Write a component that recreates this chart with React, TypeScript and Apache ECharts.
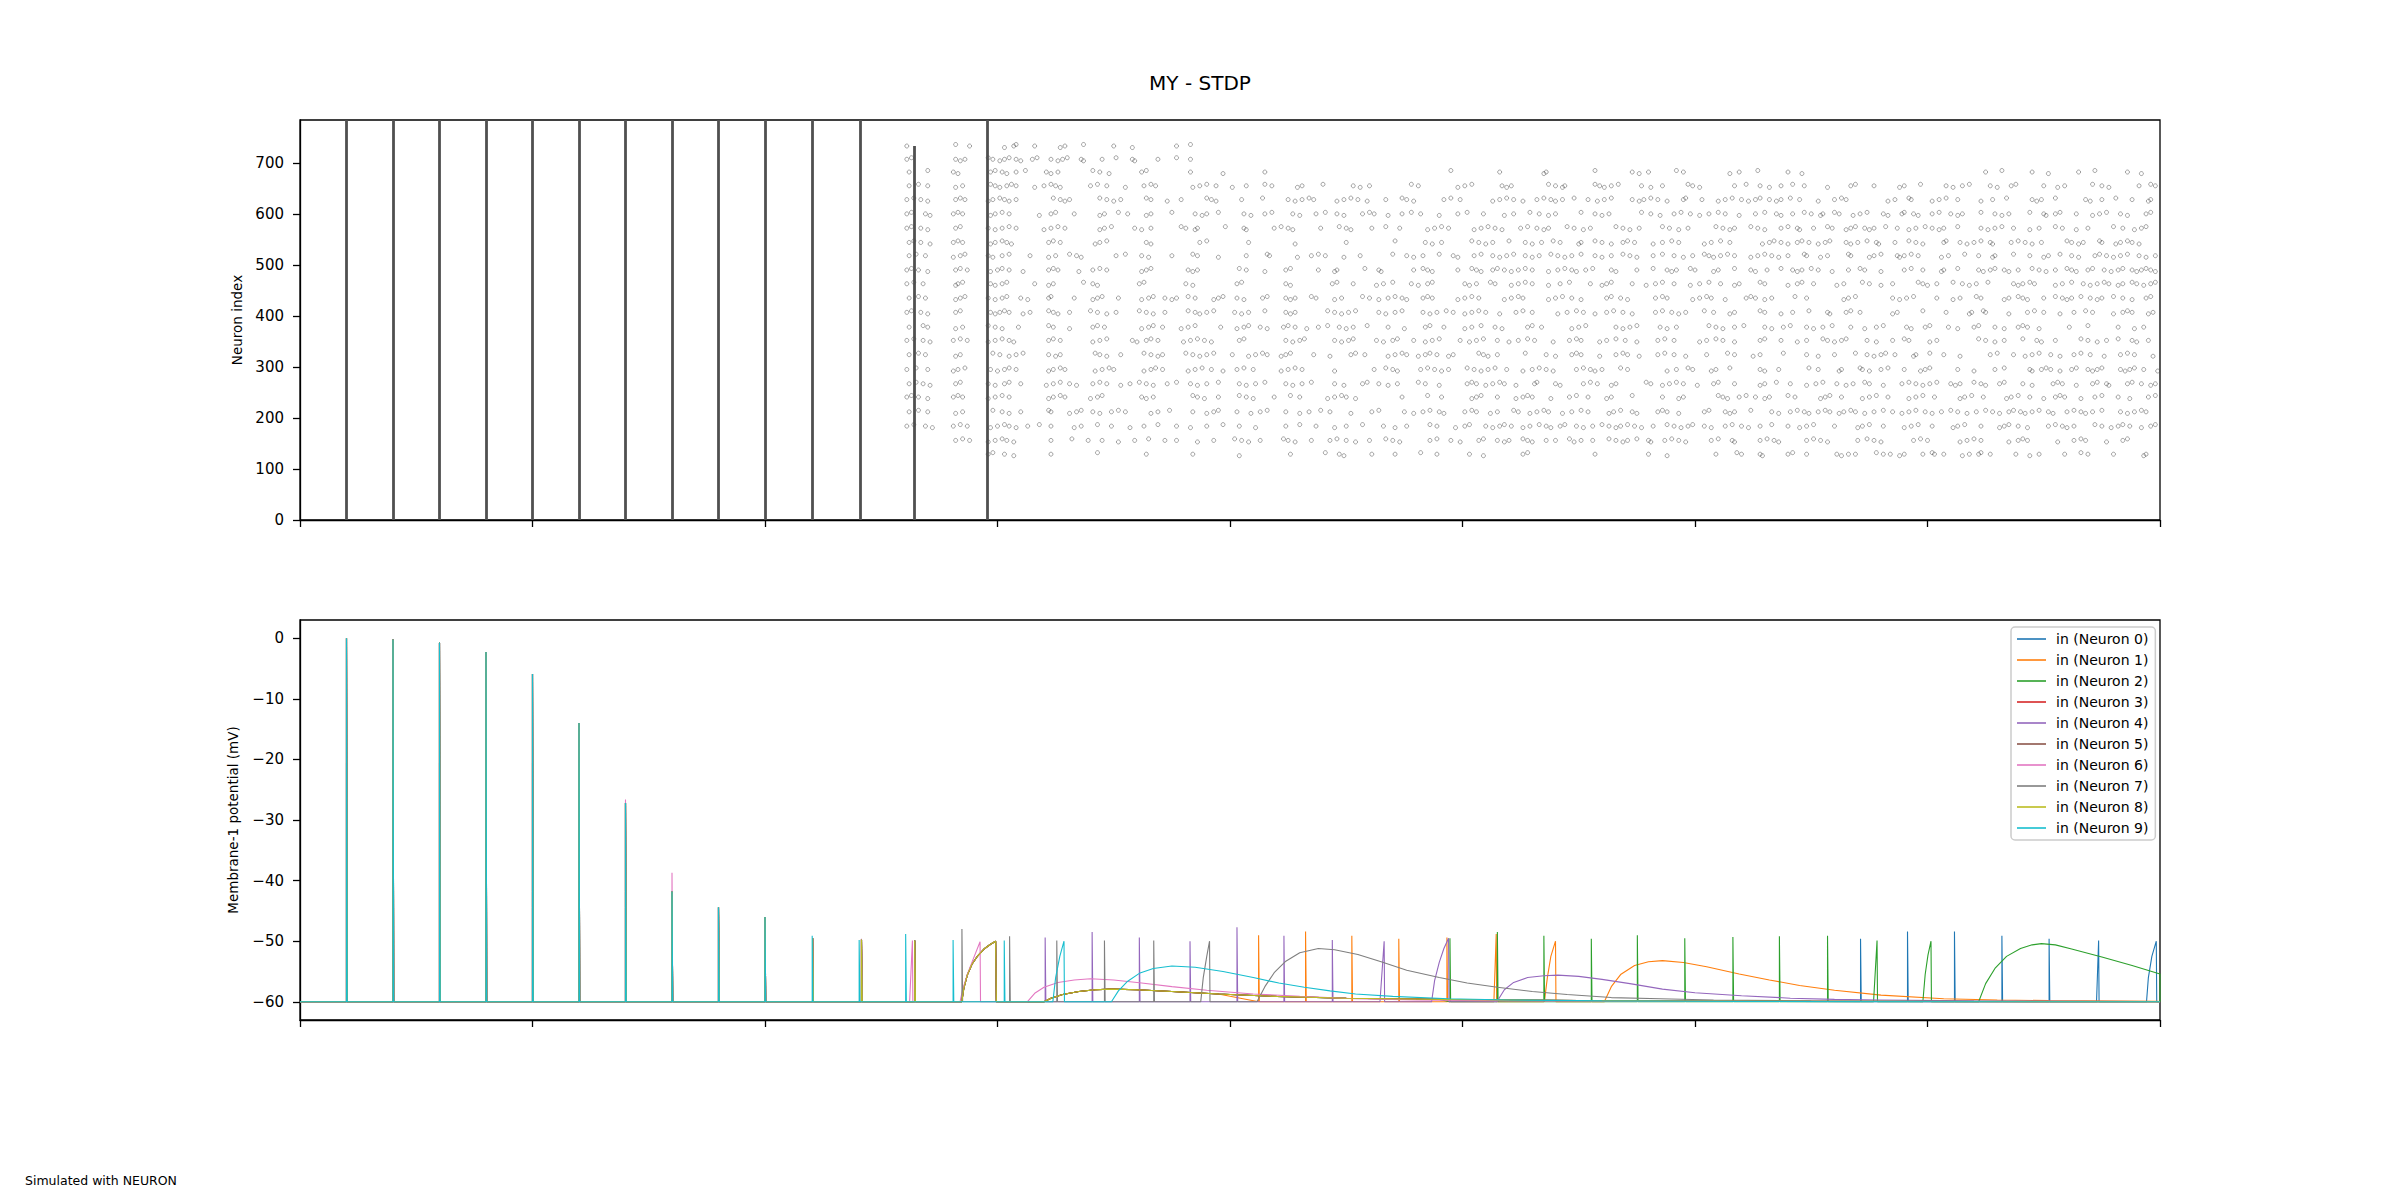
import React, { useEffect, useRef } from "react";
import * as echarts from "echarts";

const FONT = "DejaVu Sans";

// ---------- axes ----------
const xTickValues = [0, 100, 200, 300, 400, 500, 600, 700, 800];
const rasterTickValues = [0, 100, 200, 300, 400, 500, 600, 700];
const vmTickValues = [-60, -50, -40, -30, -20, -10, 0];

// ---------- raster: synchronous volleys (all neurons in range fire) ----------
const volleyTimes = [20, 40, 60, 80, 100, 120, 140, 160, 180, 200, 220.5, 241, 264, 295.5];
const volleyTopIndex = [784, 784, 784, 784, 784, 784, 784, 784, 784, 784, 784, 784, 733, 784];

// ---------- raster: scattered spikes, grouped by neuron-index row ----------
// token "t" = spike at row index, "t^" = a few indices above the row, "tv" = a few below
const rasterRowIndex = [129, 156, 184, 212, 241, 267, 295, 324, 352, 378, 407, 435, 463, 490, 518, 544, 572, 600, 628, 655, 682, 707, 733];
const rasterRowOffset = 3;
const rasterRowTimes = [
  "296 298^ 303 307v 323 343^ 364 384 404v 426 441^ 447 449v 461 471 482^ 489 503 509v 526 528^ 557 580 588v 609 618^ 620 628 629v 640 642^ 648 661 663v 666 669 678^ 681 684 688v 690 698 702^ 703 707 715v 718 722 723^ 727 738 744v 748 759 766^ 769 780 793v 794",
  "282 285^ 288 296v 299 302^ 304 307v 323 332^ 339 345 352v 359 365^ 372 377 386v 393 402^ 405 408v 413 423^ 425 428v 435 443 446^ 450 454v 460 467^ 470 473v 486 489^ 495 499v 507 509^ 515 518v 520 526^ 528 530v 536 540 546^ 548v 551 556 563^ 566 569v 571 575^ 580 581v 587 590^ 593 596v 607 610^ 616 617v 628 631^ 634 636v 648 651^ 654 657v 670 674^ 677 680v 694 697^ 700 714v 717 720^ 723 735v 739 741^ 743 756v 763 766^ 768 777v 784 786^",
  "261 264^ 269 272v 281 284^ 287 297v 300 303^ 305 308v 313 318^ 323 333v 336 343^ 349 357v 363 369^ 377 383v 390 397^ 404 411v 424 430^ 437 445v 450 457^ 466 471v 476 486^ 489 497v 501 503^ 510 513v 516 518^ 521 526v 529 533^ 536 538v 542 544^ 549 552v 556 560^ 563 566v 568 571^ 574 577v 582 588^ 591 594v 597 599^ 604 607v 613 616^ 620 623v 628 633^ 640 645v 648 651^ 660 670v 672 675^ 681 690v 693 696^ 702 711v 713 716^ 723 731v 733 735^ 739 743v 752 755^ 758 760v 763 772^ 775 779v 782 784^ 787 792v 796 798^",
  "262 266^ 270 282v 285 298^ 302 305v 310 322^ 323 331v 334 336^ 341 344v 349 352^ 355 366v 369 374^ 384 390v 393 395^ 403 409v 413 416^ 424 430v 434 439^ 443 452v 461 464^ 475 479v 483 486^ 490 492v 501 504^ 506 512v 515 522^ 524 529v 532 535^ 537 543v 547 551^ 554 563v 565 568^ 573 575v 584 586^ 588 593v 604 606^ 613 615v 617 624^ 633 636v 641 644^ 647 649v 653 656^ 658 662v 664 667^ 669 673v 677 681^ 685 689v 692 695^ 699 702v 706 710^ 713 717v 721 725^ 728 731v 735 737^ 740 742v 745 748^ 752 754v 760 763^ 766 768v 771 775^ 783 786v 789 792^ 794",
  "261 263^ 266 270v 281 283^ 285 296v 299 302^ 305 322v 324 327^ 329 340v 343 345^ 362 364v 367 384^ 386 389v 395 404^ 407 410v 419 426^ 430 442v 445 448^ 450 454v 474 485^ 491 504v 506 508^ 515 523v 526 528^ 530 538v 546 549^ 554 562v 564 573^ 586 593v 595 610^ 612 614v 619 622^ 626 630v 632 640^ 643 654v 656 658^ 663 672v 675 678^ 683 692v 695 698^ 703 714v 716 719^ 724 734v 736 739^ 744 750v 755 757^ 759 766v 772 775^ 782 787v 795 798^",
  "262 265^ 268 271v 282 284^ 296 299v 303 305^ 310 321v 324 327^ 331 334v 341 344^ 347 353v 357 361^ 364 367v 373 377^ 383 386v 390 395^ 404 407v 411 415^ 424 427v 431 435^ 445 449v 457 459^ 464 468v 472 481^ 484 490v 502 504^ 506 510v 513 516^ 518 523v 531 532^ 540 542v 552 555^ 558 564v 566 579^ 581 586v 589 592^ 595 601v 608 610^ 617 628v 630 635^ 641 648v 652 655^ 661 665v 668 673^ 675 681v 689 692^ 695 698v 701 704^ 710 712v 714 720^ 723 725v 731 733^ 741 745v 754 756^ 758 764v 771 773^ 777 778v 786 788^ 792 796v 798",
  "261 265^ 270 281v 283 286^ 297 300v 303 305^ 308 322v 324 327^ 329 342v 345 348^ 350 363v 366 368^ 371 382v 385 388^ 392 397v 403 406^ 410 422v 425 428^ 431 445v 462 467^ 470 472v 482 485^ 488 491v 494 502^ 505 508v 511 514^ 519 526v 530 533^ 536 539v 549 552^ 555 557v 560 568^ 571 588v 592 597^ 599 607v 609 615^ 628 630v 636 649^ 653 662v 663 671^ 672 675v 680 683^ 690 697v 699 701^ 713 720v 729 733^ 744 745v 749 751^ 753 757v 762 764^ 769 771v 773 775^ 783 785v 787 789^ 793 799v",
  "262 266^ 269 282v 284 298^ 301 305v 308 311^ 322 325v 327 342^ 344 347v 353 363^ 366 369v 371 381^ 384 387v 390 393^ 401 408v 411 414^ 416 422v 424 426^ 436 443v 452 454^ 458 468v 471 474^ 476 481v 484 486^ 489 494v 496 507^ 509 511v 515 527^ 536 540v 547 549^ 551 559v 566 569^ 571 576v 584 587^ 591 596v 605 614^ 617 625v 628 638^ 648 653v 660 669^ 674 677v 680 682^ 686 694v 695 701^ 707 714v 727 730^ 737 742v 745 748^ 753 757v 763 766^ 770 776v 783 786^ 789 797v",
  "261 264^ 268 271v 281 284^ 287 296v 299 302^ 305 307v 322 324^ 327 341v 344 347^ 358 360v 364 366^ 369 380v 383 386^ 389 392v 404 406^ 424 427v 430 432^ 445 448v 451 453^ 463 466v 470 472^ 479 484v 487 490^ 499 503v 506 509^ 515 520v 524 528^ 531 539v 546 549^ 551 559v 562 566^ 570 575v 584 587^ 591 602v 605 609^ 612 617v 628 630^ 637 644v 648 655^ 657 660v 663 665^ 674 678v 685 690^ 692 701v 704 722^ 725 729v 733 741^ 747 749v 755 766^ 769 773v 777 782^ 788 790v 795",
  "262 268^ 270 282v 285 296^ 299 302v 309 322^ 324 331v 341 343^ 346 362v 365 367^ 371 379v 382 385^ 396 403v 406 408^ 413 416v 423 425^ 428 433v 438 442^ 447 450v 453 459^ 468 475v 484 486^ 492 501v 504 508^ 514 517v 528 530^ 534 547v 550 553^ 566 569v 572 575^ 585 588v 592 606^ 609 612v 617 621^ 630 633v 638 641^ 648 651v 655 659^ 667 673v 678 681^ 691 693v 699 701^ 709 713v 720 722^ 729 733v 739 741^ 743 748v 761 769^ 782 789v 793",
  "261 263^ 267 270v 282 284^ 297 299v 301 303^ 305 311v 314 322^ 324 326v 331 340^ 343 347v 351 361^ 364 367v 372 382^ 385 387v 390 393^ 402 405v 408 415^ 424 426v 428 442^ 445 448v 451 454^ 464 467v 471 474^ 483 486v 489 493^ 496 501v 504 507^ 510 516v 523 526^ 530 541v 545 549^ 552 557v 562 565^ 569 573v 583 586^ 590 593v 596 604^ 608 615v 617 628^ 630 637v 642 649^ 657 658v 665 667^ 671 685v 687 698^ 708 718v 719 724^ 725 735v 743 746^ 750 757v 763 768^ 771 780v 784 786^ 788 795v 797",
  "262 266^ 269 282v 284 286^ 296 299v 302 304^ 310 313v 322 323^ 333 341v 343 345^ 352 362v 365 367^ 372 375v 377 382^ 385 393v 395 397^ 403 406v 414 416^ 424 426v 428 435^ 437 445v 448 457^ 460 464v 468 471^ 474 476v 483 485^ 487 498v 501 504^ 507 518v 521 524^ 526 537v 540 543^ 547 551v 562 564^ 568 571v 583 586^ 588 599v 602 605^ 607 613v 622 624^ 626 630v 633 643^ 648 664v 666 669^ 685 688v 691 694^ 704 711v 714 721^ 723 733v 735 739^ 741 743v 750 755^ 758 760v 762 766^ 770 773v 775 780^ 784 788v 794 796^",
  "261 264^ 268 282v 283 285^ 297 299v 302 304^ 316 322v 324 337^ 341 343v 361 363^ 381 384v 403 405^ 424 426v 444 446^ 453 463v 466 470^ 478 481v 485 487^ 501 503v 506 512^ 514 521v 524 527^ 530 537v 542 546^ 555 560v 562 564^ 573 579v 583 586^ 591 598v 602 606^ 611 617v 619 628^ 630 640v 644 646^ 651 661v 664 672^ 675 680v 685 696^ 698 700v 704 711^ 715 718v 721 726^ 737 739v 741 744^ 746 755v 758 762^ 767 770v 773 776^ 778 782v 784 788^ 790 793v 796 798^",
  "261 263^ 266 270v 282 284^ 287 297v 300 302^ 305 311v 322 324^ 326 335v 341 344^ 347 362v 364 366^ 382 384v 386 404^ 407 415v 424 426^ 438 445v 446 458^ 464 465v 479 483^ 485 487v 498 504^ 506 508v 513 515^ 518 521v 524 527^ 530 537v 541 544^ 547 549v 553 556^ 564 566v 575 582^ 588 590v 592 598^ 600 608v 610 617^ 624 626v 631 637^ 642 644v 646 650^ 653 659v 666 671^ 673 680v 690 693^ 698 706v 707 713^ 722 724v 727 729^ 733 735v 739 745^ 748 751v 755 760^ 762 764v 769 771^ 776 779v 782 784^ 788 790v 792 794^ 796 798v",
  "262 265^ 269 281v 284 286^ 296 298v 302 305^ 314 322v 325 331^ 334 336v 351 355^ 362 365v 375 384^ 386 395v 407 416^ 417 429v 435 438^ 441 449v 456 470^ 476 479v 483 490^ 496 498v 505 508^ 513 516v 519 522^ 527 530v 533 538^ 541 544v 547 551^ 557 560v 564 569^ 572 575v 582 586^ 591 595v 599 604^ 606 608v 611 614^ 617 624v 627 630^ 633 636v 640 647^ 648 654v 657 666^ 667 675v 677 680^ 687 688v 690 693^ 696 706v 709 716^ 722 728v 729 737^ 744 750v 752 757^ 762 765v 772 774^ 777 780v 783 786^ 791 794v 798",
  "262 264^ 267 271v 281 283^ 285 297v 299 302^ 304 306v 322 324^ 327 342v 344 347^ 364 366v 387 390^ 408 428v 450 471^ 484 487v 491 504^ 507 510v 513 520^ 527 530v 534 539^ 542 550v 551 557^ 560 564v 569 571^ 574 582v 586 590^ 593 604v 607 611^ 615 629v 632 634^ 637 640v 644 646^ 649 653v 656 658^ 665 667v 670 674^ 678 679v 686 692^ 695 698v 707 708^ 714 717v 720 723^ 727 728v 736 739^ 742 745v 749 760^ 762 765v 767 774^ 775 781v 783 786^ 788 791v",
  "261 263^ 267 270v 282 284^ 296 299v 302 305^ 308 320v 323 326^ 329 344v 346 349^ 359 362v 366 379^ 381 385v 386 398^ 406 407v 419 422^ 425 427v 439 447^ 450 452v 461 467^ 473 485v 488 491^ 494 505v 508 511^ 514 517v 525 528^ 532 535v 537 545^ 548 552v 555 566^ 569 572v 576 586^ 589 593v 597 609^ 612 615v 617 624^ 627 630v 637 640^ 644 645v 651 657^ 659 665v 667 669^ 673 675v 677 682^ 687 692v 695 699^ 702 705v 707 713^ 723 726v 729 732^ 737 744v 748 755^ 758 764v 769 780^ 784 789v 792 794^",
  "261 263^ 269 271v 281 283^ 285 297v 299 302^ 305 318v 323 325^ 333 344v 346 352^ 356 364v 366 375^ 385 388v 390 395^ 406 409v 415 418^ 427 430v 437 441^ 446 449v 457 460^ 462 468v 474 478^ 482 490v 498 502^ 509 518v 522 529^ 533 537v 540 551^ 557 560v 563 577^ 581 585v 591 594^ 598 602v 606 610^ 613 619v 626 630^ 635 637v 642 647^ 650 654v 655 660^ 662 668v 671 674^ 681 683v 689 690^ 694 696v 702 705^ 710 713v 715 723^ 729 732v 735 744^ 750 751v 755 757^ 764 771v 774 777^ 783 786v 794 796^",
  "261 264^ 267 270v 282 284^ 286 296v 298 301^ 303 305v 308 324^ 327 329v 331 344^ 347 350v 353 364^ 366 373v 379 390^ 392 394v 405 414^ 425 428v 431 434^ 436 446v 449 452^ 455 459v 467 474^ 476 479v 492 495^ 499 513v 516 519^ 522 526v 532 535^ 538 540v 543 548^ 554 558v 561 564^ 573 576v 578 581^ 584 588v 595 596^ 603 610v 613 616^ 620 623v 626 628^ 632 635v 637 641^ 645 653v 660 663^ 665 683v 686 692^ 693 702v 705 708^ 713 723v 728 734^ 745 747v 749 755^ 768 770v 775 781^ 788 795v 796",
  "262 266^ 270 282v 285 297^ 299 301v 304 306^ 308 316v 320 323^ 325 327v 340 343^ 347 355v 363 366^ 368 384v 387 390^ 394 401v 407 415^ 418 429v 431 440^ 453 456v 460 478^ 481 498v 501 504^ 517 519v 521 537^ 540 543v 544 557^ 559 561v 564 567^ 577 581v 586 597^ 599 602v 617 622^ 628 632v 637 642^ 647 657v 667 669^ 677 688v 690 697^ 708 711v 715 718^ 727 730v 736 738^ 750 756v 759 771^ 775 778v 791 796^ 798",
  "262 270^ 281 283v 297 299^ 302 304v 308 312^ 321 323v 326 341^ 344 348v 362 364^ 383 397v 415 495^ 516 535v 536 557^ 573 576v 580 592^ 595 615v 619 627^ 640 646v 725 732^ 745 752v 765 772^ 786 792v",
  "261 263^ 282 284v 286 296^ 298 301v 303 305^ 308 310v 315 317^ 323 326v 328 330^ 336 337v 345 351^ 358 359v 369 377^ 383",
  "261 282^ 288 303v 307 308^ 316 327v 329 337^ 350 358v 377 383^",
];

// ---------- membrane potential traces ----------
const neuronNames = [
  "in (Neuron 0)", "in (Neuron 1)", "in (Neuron 2)", "in (Neuron 3)", "in (Neuron 4)",
  "in (Neuron 5)", "in (Neuron 6)", "in (Neuron 7)", "in (Neuron 8)", "in (Neuron 9)",
];
const neuronColors = ["#1f77b4", "#ff7f0e", "#2ca02c", "#d62728", "#9467bd", "#8c564b", "#e377c2", "#7f7f7f", "#bcbd22", "#17becf"];

const restPotential = -60;
const traceStart = 0;
const traceEnd = 800;

// [time ms, peak mV] of the synchronous volleys seen by every trace
const volleyPeaks: [number, number][] = [
  [20, 0], [40, -0.2], [60, -0.7], [80, -2.3], [100, -5.9], [120, -14], [140, -27.2], [160, -41.8], [180, -44.4], [200, -46],
];
const volleyPeaksNeuron6: [number, number][] = [
  [20, 0], [40, -0.2], [60, -0.7], [80, -2.3], [100, -5.9], [120, -14], [140, -26.6], [160, -38.7], [180, -44.4], [200, -46],
];

// spikes after the volleys: [time, peak]
const spikesGroup: [number, number][] = [[220.5, -49.5], [241.5, -49.7], [264.4, -49.9]];
const spikesN0: [number, number][] = [[671.2, -49.6], [691.4, -48.4], [711.6, -48.4], [732, -49.1], [752.3, -49.6]];
const spikesN1: [number, number][] = [[412.3, -49], [432.5, -48.4], [452.4, -49.1], [472.6, -49.6], [493.3, -49.4]];
const spikesN2: [number, number][] = [[494.6, -49.5], [515, -48.5], [535, -49.1], [555.4, -49.6], [575.2, -49], [595.6, -49.5], [616.3, -49.3], [636.3, -49.2], [657, -49.1]];
const spikesN4: [number, number][] = [[320.5, -49.4], [340.7, -48.5], [361, -49.4], [382.8, -50], [403, -47.7], [423.2, -49.1], [444, -49.8]];
const spikesN6: [number, number][] = [[220.5, -49.6], [241.5, -49.6]];
const spikesN7: [number, number][] = [[220.5, -49.5], [241.5, -49.7], [264.4, -49.9], [284.7, -48], [305.2, -49.2], [325.5, -49.9], [346, -49.9], [367.2, -49.9]];
const spikesN9: [number, number][] = [[220.3, -49.1], [240.5, -49.8], [260.5, -48.8], [280.9, -49.8], [302.9, -49.9]];

// sub-threshold curves: [time, mV]
const riseGroup: [number, number][] = [[284.6, -60], [285.5, -57.8], [287, -55.6], [289, -53.8], [291.5, -52.4], [294.5, -51.2], [297, -50.5], [299.2, -50], [299.5, -60]];
const bumpGroup: [number, number][] = [[320, -60], [323, -59.4], [328, -58.8], [335, -58.3], [342, -58], [349, -57.9], [360, -58], [375, -58.3], [395, -58.7], [420, -59.1], [450, -59.4], [492, -59.6], [550, -59.8], [620, -59.9]];
const bumpGroupN1: [number, number][] = [[320, -60], [323, -59.4], [328, -58.8], [335, -58.3], [342, -58], [349, -57.9], [360, -58], [375, -58.3], [395, -58.7]];
const bumpGroupN2: [number, number][] = [[320, -60], [323, -59.4], [328, -58.8], [335, -58.3], [342, -58], [349, -57.9], [360, -58], [375, -58.3], [395, -58.7], [420, -59.1], [450, -59.4], [490, -59.6]];
const curvesN0: [number, number][] = [[772.7, -60], [773.6, -49.9], [773.8, -60], [794.2, -60], [795, -56], [796.5, -52.5], [798.4, -50], [798.6, -60]];
const curvesN1: [number, number][] = [
  [513.5, -60], [514.5, -48.8], [514.7, -60], [535.2, -60], [536.5, -56], [538, -52.5], [540, -50], [540.2, -60],
  [561, -60], [564, -57.5], [568, -55.5], [574, -54], [580, -53.4], [586, -53.2], [595, -53.5], [605, -54.2], [619, -55.4], [632, -56.4], [645, -57.3], [660, -58.1], [680, -58.9], [707, -59.5], [730, -59.7], [752, -59.8], [799, -59.9],
];
const curvesN2: [number, number][] = [
  [676.8, -60], [678.3, -49.9], [678.5, -60], [698, -60], [699, -55.5], [700.2, -52.3], [701.5, -50], [701.7, -60],
  [722, -60], [725, -57], [729, -54.5], [734, -52.5], [740, -51.2], [745, -50.6], [749, -50.4], [755, -50.6], [762, -51.3], [775, -52.6], [788, -54], [800, -55.4],
];
const curvesN4: [number, number][] = [
  [464.5, -60], [466.3, -50], [466.5, -60], [486.7, -60], [488, -56.5], [490, -53.5], [492, -51.2], [494, -49.5], [494.2, -60],
  [514.8, -60], [518, -58], [522, -56.8], [528, -56], [535, -55.7], [541, -55.6], [550, -55.8], [560, -56.3], [572, -57], [586, -57.9], [600, -58.5], [620, -59], [641, -59.4], [660, -59.6], [679, -59.7], [720, -59.85], [799, -59.95],
];
const curvesN6: [number, number][] = [
  [262.2, -60], [263.4, -49.9], [263.6, -60], [283.9, -60], [285, -58], [287, -55.5], [289.5, -53], [292.5, -50.1], [292.7, -60],
  [312.8, -60], [316, -58.6], [320, -57.6], [326, -56.8], [333, -56.4], [340, -56.2], [350, -56.4], [362, -56.9], [375, -57.5], [390, -58.1], [410, -58.7], [430, -59.1], [454, -59.5], [480, -59.7], [520, -59.85], [560, -59.9],
];
const curvesN7: [number, number][] = [
  [387.4, -60], [388.5, -56], [390, -52.5], [391.2, -50], [391.4, -60],
  [411.6, -60], [415, -57.5], [419, -55.2], [424, -53.3], [430, -51.9], [438, -51.2], [445, -51.4], [455, -52.2], [465, -53.4], [476, -54.8], [490, -56], [502, -56.9], [515, -57.6], [530, -58.3], [545, -58.8], [564, -59.3], [585, -59.5], [608, -59.7], [650, -59.85], [700, -59.9],
];
const curvesN9: [number, number][] = [
  [323.8, -60], [325, -56], [326.8, -52.5], [328.6, -50], [328.8, -60],
  [349, -60], [352, -58.2], [356, -56.6], [361, -55.3], [367, -54.5], [375, -54.1], [385, -54.3], [397, -55], [410, -56], [421, -56.9], [432, -57.6], [443, -58.2], [454, -58.7], [470, -59.1], [494, -59.5], [520, -59.7], [560, -59.85], [620, -59.95],
];

const neuronSpikeLists: [number, number][][][] = [
  [volleyPeaks, spikesGroup, spikesN0],
  [volleyPeaks, spikesGroup, spikesN1],
  [volleyPeaks, spikesGroup, spikesN2],
  [volleyPeaks, spikesGroup],
  [volleyPeaks, spikesGroup, spikesN4],
  [volleyPeaks, spikesGroup],
  [volleyPeaksNeuron6, spikesN6],
  [volleyPeaks, spikesN7],
  [volleyPeaks, spikesGroup],
  [volleyPeaks, spikesN9],
];
const neuronCurveLists: [number, number][][][] = [
  [riseGroup, bumpGroup, curvesN0],
  [riseGroup, bumpGroupN1, curvesN1],
  [riseGroup, bumpGroupN2, curvesN2],
  [riseGroup, bumpGroup],
  [riseGroup, curvesN4],
  [riseGroup, bumpGroup],
  [curvesN6],
  [curvesN7],
  [riseGroup, bumpGroup],
  [curvesN9],
];

function buildTrace(i: number): [number, number][] {
  const pts: { t: number; v: number; k: number }[] = [];
  let k = 0;
  pts.push({ t: traceStart, v: restPotential, k: k++ });
  for (const list of neuronSpikeLists[i]) {
    for (const [t, p] of list) {
      pts.push({ t, v: restPotential, k: k++ });
      pts.push({ t, v: p, k: k++ });
      pts.push({ t: t + 0.3, v: restPotential, k: k++ });
    }
  }
  for (const list of neuronCurveLists[i]) {
    for (const [t, v] of list) pts.push({ t, v, k: k++ });
  }
  pts.push({ t: traceEnd, v: restPotential, k: k++ });
  pts.sort((a, b) => (a.t - b.t) || (a.k - b.k));
  return pts.map((p) => [p.t, p.v]);
}

function buildRaster(): [number, number][] {
  const out: [number, number][] = [];
  rasterRowTimes.forEach((s, r) => {
    s.trim().split(/\s+/).forEach((tok) => {
      const last = tok[tok.length - 1];
      let idx = rasterRowIndex[r];
      let num = tok;
      if (last === "^") { idx += rasterRowOffset; num = tok.slice(0, -1); }
      else if (last === "v") { idx -= rasterRowOffset; num = tok.slice(0, -1); }
      out.push([Number(num), idx]);
    });
  });
  return out;
}

const fmtMinus = (v: number) => (v < 0 ? "\u2212" + Math.abs(v) : String(v));

function buildOption(): any {
  const axisLineStyle = { color: "#000", width: 1.3 };
  const xAxisCommon = (gridIndex: number) => ({
    gridIndex,
    type: "value",
    min: 0,
    max: 800,
    axisLine: { show: true, onZero: false, lineStyle: axisLineStyle },
    axisTick: { show: true, length: 7, lineStyle: axisLineStyle, customValues: xTickValues },
    axisLabel: { show: false, customValues: xTickValues },
    splitLine: { show: false },
  });
  const series: any[] = [
    {
      type: "lines",
      coordinateSystem: "cartesian2d",
      xAxisIndex: 0,
      yAxisIndex: 0,
      silent: true,
      z: 2,
      data: volleyTimes.map((t, i) => ({ coords: [[t, 0], [t, volleyTopIndex[i]]] })),
      lineStyle: { color: "#505050", width: 2.8, opacity: 1 },
    },
    {
      type: "scatter",
      xAxisIndex: 0,
      yAxisIndex: 0,
      silent: true,
      z: 3,
      data: buildRaster(),
      symbol: "circle",
      symbolSize: 4,
      itemStyle: { color: "rgba(0,0,0,0)", borderColor: "rgba(75,75,75,0.7)", borderWidth: 0.9 },
    },
  ];
  neuronNames.forEach((name, i) => {
    series.push({
      type: "line",
      name,
      xAxisIndex: 1,
      yAxisIndex: 1,
      silent: true,
      z: 4,
      data: buildTrace(i),
      showSymbol: false,
      symbol: "none",
      clip: true,
      lineStyle: { width: 1.1, color: neuronColors[i] },
      itemStyle: { color: neuronColors[i] },
    });
  });

  return {
    animation: false,
    backgroundColor: "#ffffff",
    textStyle: { fontFamily: FONT },
    grid: [
      { left: 300, top: 120, width: 1860, height: 400, show: true, borderColor: "#000", borderWidth: 1.3, backgroundColor: "transparent" },
      { left: 300, top: 620, width: 1860, height: 400, show: true, borderColor: "#000", borderWidth: 1.3, backgroundColor: "transparent" },
    ],
    xAxis: [xAxisCommon(0), xAxisCommon(1)],
    yAxis: [
      {
        gridIndex: 0,
        type: "value",
        min: 0,
        max: 784,
        axisLine: { show: true, onZero: false, lineStyle: axisLineStyle },
        axisTick: { show: true, length: 7, lineStyle: axisLineStyle, customValues: rasterTickValues },
        axisLabel: { show: true, customValues: rasterTickValues, fontSize: 15, color: "#000", fontFamily: FONT, margin: 16 },
        splitLine: { show: false },
        name: "Neuron index",
        nameLocation: "middle",
        nameGap: 56,
        nameTextStyle: { fontSize: 13.5, color: "#000", fontFamily: FONT },
      },
      {
        gridIndex: 1,
        type: "value",
        min: -63,
        max: 3,
        axisLine: { show: true, onZero: false, lineStyle: axisLineStyle },
        axisTick: { show: true, length: 7, lineStyle: axisLineStyle, customValues: vmTickValues },
        axisLabel: { show: true, customValues: vmTickValues, fontSize: 15, color: "#000", fontFamily: FONT, margin: 16, formatter: fmtMinus },
        splitLine: { show: false },
        name: "Membrane-1 potential (mV)",
        nameLocation: "middle",
        nameGap: 60,
        nameTextStyle: { fontSize: 13.5, color: "#000", fontFamily: FONT },
      },
    ],
    legend: {
      show: true,
      orient: "vertical",
      left: 2011,
      top: 627,
      itemWidth: 29,
      itemHeight: 1.6,
      itemGap: 7,
      padding: [5, 7, 5, 6],
      borderColor: "#cccccc",
      borderWidth: 1.5,
      borderRadius: 4,
      backgroundColor: "rgba(255,255,255,0.8)",
      textStyle: { fontSize: 14, lineHeight: 14, color: "#000", fontFamily: FONT, padding: [0, 0, 0, 5] },
      data: neuronNames.map((name) => ({ name, icon: "rect" })),
    },
    graphic: [
      {
        type: "text",
        x: 1200,
        y: 83,
        silent: true,
        style: { text: "MY - STDP", fill: "#000", fontSize: 20, fontFamily: FONT, align: "center", verticalAlign: "middle", textAlign: "center", textVerticalAlign: "middle" },
      },
      {
        type: "text",
        x: 25,
        y: 1180,
        silent: true,
        style: { text: "Simulated with NEURON", fill: "#000", fontSize: 12.5, fontFamily: FONT, align: "left", verticalAlign: "middle", textAlign: "left", textVerticalAlign: "middle" },
      },
    ],
    series,
  };
}

export default function App() {
  const ref = useRef<HTMLDivElement>(null);
  useEffect(() => {
    if (!ref.current) return;
    const chart = echarts.init(ref.current, null, { renderer: "svg" });
    chart.setOption(buildOption());
    return () => chart.dispose();
  }, []);
  return (
    <div
      ref={ref}
      style={{ position: "fixed", left: 0, top: 0, width: 2400, height: 1200, background: "#ffffff" }}
    />
  );
}
